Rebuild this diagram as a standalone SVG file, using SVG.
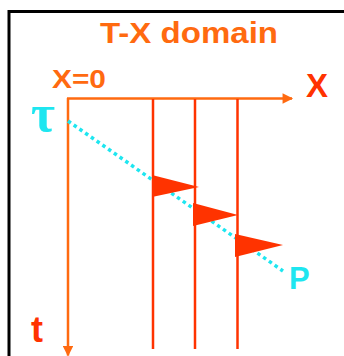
<svg xmlns="http://www.w3.org/2000/svg" width="344" height="356" viewBox="0 0 344 356">
<defs>
<style>
.t{font-family:"Liberation Sans",Arial,sans-serif;font-weight:bold}
.or{fill:#FF6A10}
.rd{fill:#FF3300}
.cy{fill:#1EE6F0}
.ax{stroke:#FF6A10;stroke-width:2.5;fill:none}
.ln{stroke:#FF3300;stroke-width:2.5;fill:none}
</style>
<marker id="ah" viewBox="0 0 10 10" refX="9" refY="5" markerWidth="5.6" markerHeight="4.2" markerUnits="strokeWidth" orient="auto">
<path d="M0,0 L10,5 L0,10 Z" fill="#FF6A10"/>
</marker>
</defs>
<rect width="344" height="356" fill="#fff"/>
<g id="frame">
<path d="M9,356 V11.5 H344" stroke="#000" stroke-width="3" fill="none"/>
</g>
<g id="title"><text class="t or" x="100" y="43" font-size="30" textLength="178" lengthAdjust="spacingAndGlyphs">T-X domain</text></g>
<g id="connectors">
<line class="ax" x1="67" y1="98.5" x2="292" y2="98.5" marker-end="url(#ah)"/>
<line class="ax" x1="68" y1="98" x2="68" y2="355.5" marker-end="url(#ah)"/>
<line class="ln" x1="153" y1="99" x2="153" y2="349"/>
<line class="ln" x1="195" y1="99" x2="195" y2="349"/>
<line class="ln" x1="237.5" y1="99" x2="237.5" y2="349"/>
<line x1="68" y1="121" x2="283" y2="271" stroke="#1EE6F0" stroke-width="3.5" stroke-dasharray="3.5 3.5"/>
</g>
<g id="flags">
<path class="rd" d="M152,175 L199,187 L152,197 Z"/>
<path class="rd" d="M193,203 L238,215 L193,226 Z"/>
<path class="rd" d="M235,234 L283,245 L235,257 Z"/>
</g>
<g id="labels">
<text class="t or" x="52" y="88" font-size="25" textLength="54" lengthAdjust="spacingAndGlyphs">X=0</text>
<text class="t rd" x="306" y="97" font-size="33">X</text>
<text x="31" y="131" font-size="52" font-weight="bold" font-family="'Liberation Serif','Times New Roman',serif" fill="#1EE6F0">τ</text>
<text class="t cy" x="289" y="289" font-size="31">P</text>
<text class="t rd" x="31" y="342" font-size="36">t</text>
</g>
</svg>
